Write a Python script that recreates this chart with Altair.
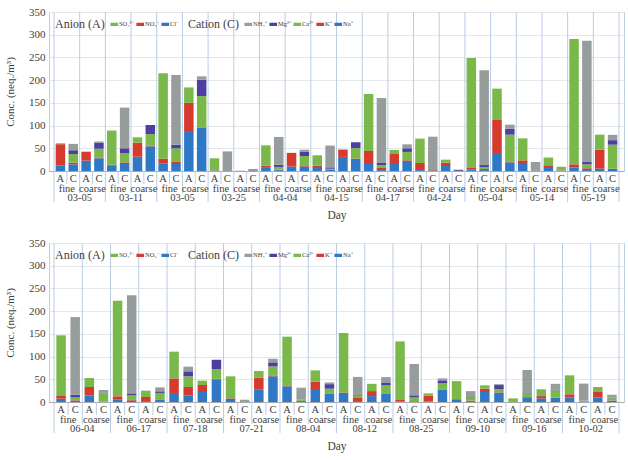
import altair as alt
import pandas as pd

# ---- species ----
ANION = ["SO₄²⁻", "NO₃⁻", "Cl⁻"]
CATION = ["NH₄⁺", "Mg²⁺", "Ca²⁺", "K⁺", "Na⁺"]
GREEN, RED, BLUE, GRAY, PURPLE = "#7bb84a", "#d63a2c", "#2f78c6", "#979d9d", "#4b3fa0"
ANION_COLORS = [GREEN, RED, BLUE]
CATION_COLORS = [GRAY, PURPLE, GREEN, RED, BLUE]

# ---- upper panel: values per date as (fine, coarse) ----
top_dates = ["03-05", "03-11", "03-05", "03-25", "04-04", "04-15", "04-17", "04-24", "05-04", "05-14", "05-19"]
top_cl = [12.5, 22.8, 12.5, 31.5, 17, 86, 1, 0.3, 7, 10, 8.8, 31, 15.4, 15.4, 2, 11, 3, 39.6, 15.4, 6.6, 8, 5]
top_no3 = [46.5, 19, 1, 31, 10, 64, 0.5, 0.2, 5, 29.6, 3, 16, 28.6, 22, 15.6, 7.4, 5, 72.7, 8, 6, 6.7, 42]
top_so4 = [2, 1, 75.5, 11.7, 188, 34, 26.5, 0, 44.5, 0.5, 22.8, 0.5, 125.6, 9, 53.6, 6.6, 241, 69, 48.5, 17, 276, 33]
top_na = [14.7, 28, 15.4, 54.3, 15.4, 95.4, 1, 1, 2, 10, 3, 26.4, 2, 22, 1, 0.5, 2, 19, 0.5, 0.5, 2, 4.4]
top_k = [3.5, 1, 3.6, 1, 4.5, 1, 0.3, 0.2, 1, 1, 1, 1, 4.6, 1.5, 1, 0, 2.4, 1, 0.3, 0.5, 4, 0.5]
top_ca = [19, 20, 20, 26, 30, 68.5, 0.5, 0.3, 6, 22, 1, 23, 6, 18.5, 1.5, 0, 4.4, 60, 0.5, 8, 8.7, 53]
top_mg = [8.5, 13, 11, 20, 8, 36, 0.3, 0.5, 5, 10, 3, 13, 5, 8, 1, 2, 4.2, 13, 0.5, 0, 5, 10]
top_nh4 = [14, 3, 89.5, 0, 153.5, 7.5, 41, 2.5, 61, 4, 48, 0.5, 143, 8.7, 71, 0.5, 208.7, 9, 18, 0.5, 267, 11.7]

# ---- lower panel ----
bot_dates = ["06-04", "06-17", "07-18", "07-21", "08-04", "08-12", "08-25", "09-10", "09-16", "10-02"]
bot_cl = [7.3, 14.7, 5, 2, 19.8, 22, 7.3, 27, 34.5, 28.6, 19.8, 13, 1, 1, 6, 22, 0.5, 8, 10, 10]
bot_no3 = [7.4, 18.3, 7.5, 9, 32.2, 15.4, 1, 26.6, 2, 16, 1, 11, 3.4, 13, 0.5, 7.4, 1, 5, 7, 12]
bot_so4 = [132, 19.8, 210.5, 14, 58.8, 9.6, 48.2, 14.6, 107.3, 25, 131, 16, 129, 5, 39.5, 7.3, 6.5, 15, 41.7, 11]
bot_na = [3, 0.5, 3, 5, 14, 50, 1, 56.5, 2, 18.3, 2, 18.3, 1, 27, 2, 20.5, 9.5, 8.8, 1, 3]
bot_k = [1, 0.5, 1.5, 1, 19, 1, 0, 2, 0.5, 1, 6.8, 1, 1, 1, 1, 1, 1.5, 0.5, 0.5, 0.5]
bot_ca = [6, 19, 10.2, 14, 23.5, 21.6, 0, 20, 2.5, 10, 4.4, 17.2, 8, 13, 7, 7, 8, 16.4, 1.5, 5]
bot_mg = [6, 1, 4.3, 3.5, 11, 19.8, 0.5, 8.8, 0.5, 10, 1.5, 6.6, 4.7, 6.7, 1, 8.8, 2, 1, 0.5, 1]
bot_nh4 = [171, 5.4, 215.8, 8.8, 10.3, 1, 3.5, 8, 26, 3.7, 40.5, 11.7, 69, 4.3, 13, 2, 49.4, 13.3, 37, 6.5]

SIZES = ["fine", "coarse"]
SERIF = "Liberation Serif"
TXT = "#404040"
LINE = "#b9cde6"
W, H = 575, 159
BAR = 9.5


def panel(dates, cl, no3, so4, na, k, ca, mg, nh4):
    n = len(dates)
    rows = []
    for j in range(2 * n):
        d, s = divmod(j, 2)
        base = 4 * d + 2 * s
        for order, (name, vals) in enumerate([("Cl⁻", cl), ("NO₃⁻", no3), ("SO₄²⁻", so4)]):
            rows.append(dict(pos=base + 0.5, kind="A", species=name, value=vals[j], stack=order))
        for order, (name, vals) in enumerate([("Na⁺", na), ("K⁺", k), ("Ca²⁺", ca), ("Mg²⁺", mg), ("NH₄⁺", nh4)]):
            rows.append(dict(pos=base + 1.5, kind="C", species=name, value=vals[j], stack=order))
    bars = pd.DataFrame(rows)

    ac_labels = pd.DataFrame({"pos": [i + 0.5 for i in range(4 * n)],
                              "text": ["A", "C"] * (2 * n)})
    size_labels = pd.DataFrame({"pos": [4 * d + 2 * s + 1 for d in range(n) for s in range(2)],
                                "text": SIZES * n})
    date_labels = pd.DataFrame({"pos": [4 * d + 2 for d in range(n)], "text": dates})
    ac_seps = pd.DataFrame({"pos": [4 * d + 2 * s + 1 for d in range(n) for s in range(2)]})
    pair_seps = pd.DataFrame({"pos": [4 * d + 2 for d in range(n)]})
    date_seps = pd.DataFrame({"pos": [4 * d for d in range(n + 1)]})

    xs = alt.Scale(domain=[0, 4 * n], nice=False, zero=False)
    x_enc = alt.X("pos:Q", scale=xs,
                  axis=alt.Axis(title="Day", labels=False, ticks=False, grid=False,
                                domain=True, domainColor="#a8a8a8", titlePadding=38,
                                titleFont=SERIF, titleFontSize=11.5, titleFontWeight="normal",
                                titleColor=TXT))
    y_bar = alt.Y("value:Q", stack="zero", scale=alt.Scale(domain=[0, 350], nice=False),
                  axis=alt.Axis(values=list(range(0, 351, 50)), title="Conc. (neq./m³)",
                                grid=True, gridColor="#e3e6ea", ticks=False, domain=False,
                                labelFont=SERIF, labelFontSize=11, labelColor=TXT,
                                labelPadding=4, titleFont=SERIF, titleFontSize=11,
                                titleFontWeight="normal", titleColor=TXT, titlePadding=13))

    rect = "M-1.4,-0.6H1.4V0.6H-1.4Z"
    legend_common = dict(orient="none", direction="horizontal", titleOrient="left",
                         titleFont=SERIF, titleFontSize=12, titleFontWeight="normal",
                         titleColor=TXT, labelFont=SERIF, labelFontSize=6.5, labelColor=TXT,
                         symbolType=rect, symbolSize=30, symbolStrokeWidth=0,
                         labelOffset=1.5, columnPadding=2, padding=0, titlePadding=6)

    date_lines = alt.Chart(date_seps).mark_rule(color=LINE, strokeWidth=1).encode(
        x=x_enc, y=alt.value(0), y2=alt.value(H + 31))
    pair_lines = alt.Chart(pair_seps).mark_rule(color=LINE, strokeWidth=1).encode(
        x=x_enc, y=alt.value(0), y2=alt.value(H + 22))
    ac_lines = alt.Chart(ac_seps).mark_rule(color=LINE, strokeWidth=1).encode(
        x=x_enc, y=alt.value(H), y2=alt.value(H + 13))

    anion = alt.Chart(bars).transform_filter(alt.datum.kind == "A").mark_bar(size=BAR).encode(
        x=x_enc, y=y_bar,
        color=alt.Color("species:N", scale=alt.Scale(domain=ANION, range=ANION_COLORS),
                        legend=alt.Legend(title="Anion (A)", legendX=6, legendY=9, **legend_common)),
        order=alt.Order("stack:Q"))
    cation = alt.Chart(bars).transform_filter(alt.datum.kind == "C").mark_bar(size=BAR).encode(
        x=x_enc, y=y_bar,
        fill=alt.Fill("species:N", scale=alt.Scale(domain=CATION, range=CATION_COLORS),
                      legend=alt.Legend(title="Cation (C)", legendX=139, legendY=9, **legend_common)),
        order=alt.Order("stack:Q"))

    def text_row(df, dy):
        return alt.Chart(df).mark_text(font=SERIF, fontSize=10.5, color=TXT, baseline="middle").encode(
            x=x_enc, y=alt.value(H + dy), text="text:N")

    return alt.layer(
        date_lines, pair_lines, ac_lines, anion, cation,
        text_row(ac_labels, 8), text_row(size_labels, 17.5), text_row(date_labels, 26.5),
    ).properties(width=W, height=H)


top = panel(top_dates, top_cl, top_no3, top_so4, top_na, top_k, top_ca, top_mg, top_nh4)
bottom = panel(bot_dates, bot_cl, bot_no3, bot_so4, bot_na, bot_k, bot_ca, bot_mg, bot_nh4)

chart = alt.vconcat(top, bottom, spacing=15).resolve_scale(
    color="independent", fill="independent"
).properties(
    padding={"left": 4, "top": 5, "right": 3, "bottom": 2},
    background="white",
).configure_view(stroke=LINE, strokeWidth=1)

chart.save("out.html", embed_options={"renderer": "svg", "actions": False})
